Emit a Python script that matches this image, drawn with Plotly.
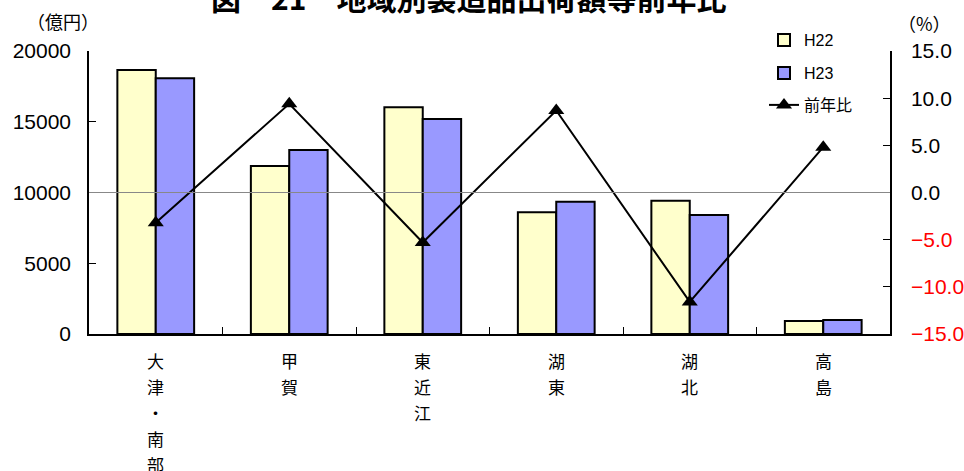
import plotly.graph_objects as go

categories = ["大津・南部", "甲賀", "東近江", "湖東", "湖北", "高島"]
h22 = [18650, 11870, 16020, 8600, 9420, 920]
h23 = [18070, 13000, 15190, 9350, 8410, 990]
ratio = [-3.2, 9.4, -5.3, 8.7, -11.6, 4.8]

left_ticks = [0, 5000, 10000, 15000, 20000]
right_ticks = [-15, -10, -5, 0, 5, 10, 15]
right_labels = ["−15.0", "−10.0", "−5.0", "0.0", "5.0", "10.0", "15.0"]

FONT = "Liberation Sans, Noto Sans CJK JP, sans-serif"
CJK = "Noto Sans CJK JP, sans-serif"

fig = go.Figure()
fig.add_trace(go.Bar(x=categories, y=h22, name="H22",
                     marker=dict(color="#FFFFCC", line=dict(color="black", width=2)),
                     legend="legend", showlegend=True))
fig.add_trace(go.Bar(x=categories, y=h23, name="H23",
                     marker=dict(color="#9999FF", line=dict(color="black", width=2)),
                     legend="legend2", showlegend=True))
fig.add_trace(go.Scatter(x=categories, y=ratio, name="前年比", yaxis="y2",
                         mode="lines+markers",
                         line=dict(color="black", width=2),
                         marker=dict(symbol="triangle-up", size=14, color="black"),
                         legend="legend3", showlegend=True))

rt_text = [f"<span style='color:red'>{t}</span>" if v < 0 else t
           for v, t in zip(right_ticks, right_labels)]

# plot area pixel geometry
L, R, T, B = 89, 74, 51, 137
W, H = 964, 471
ph = H - T - B
pw = W - L - R

def py(pix):
    return (H - B - pix) / ph

def px(pix):
    return (pix - L) / pw

annotations = []
# vertical category labels
for ci, cat in enumerate(categories):
    for k, ch in enumerate(cat):
        annotations.append(dict(x=cat, xref="x", y=py(360 + 26 * k), yref="paper",
                                text=ch, showarrow=False, xanchor="center", yanchor="middle",
                                font=dict(family=CJK, size=17, color="black")))
annotations.append(dict(x=px(468), y=py(-3), xref="paper", yref="paper",
                        text="図　21　地域別製造品出荷額等前年比", showarrow=False,
                        xanchor="center", yanchor="middle",
                        font=dict(family=CJK, size=30, color="black", weight="bold")))
annotations.append(dict(x=px(63), y=py(21), xref="paper", yref="paper",
                        text="（億円）", showarrow=False, xanchor="center", yanchor="middle",
                        font=dict(family=CJK, size=18, color="black")))
annotations.append(dict(x=px(924), y=py(23), xref="paper", yref="paper",
                        text="（%）", showarrow=False, xanchor="center", yanchor="middle",
                        font=dict(family=CJK, size=18, color="black")))

legend_common = dict(xanchor="left", yanchor="middle", bgcolor="rgba(0,0,0,0)",
                     font=dict(family=FONT, size=16, color="black"))

fig.update_layout(
    width=W, height=H,
    showlegend=True,
    margin=dict(l=L, r=R, t=T, b=B, pad=0, autoexpand=False),
    paper_bgcolor="white", plot_bgcolor="white",
    barmode="group", bargap=0.425, bargroupgap=0,
    font=dict(family=FONT, size=20, color="black"),
    xaxis=dict(type="category", showticklabels=False, ticks="inside", tickson="boundaries",
               ticklen=7, tickcolor="black", showline=True, linecolor="black", linewidth=1.5,
               showgrid=False, range=[-0.5, 5.5], automargin=False),
    yaxis=dict(range=[0, 20000], tickvals=left_ticks, tickformat="d", ticks="inside", ticklen=7,
               tickcolor="black", showline=True, linecolor="black", linewidth=1.5,
               showgrid=False, zeroline=False, ticklabelstandoff=12, automargin=False,
               tickfont=dict(family=FONT, size=21, color="black")),
    yaxis2=dict(range=[-15, 15], overlaying="y", side="right", tickvals=right_ticks,
                ticktext=rt_text, ticks="inside", ticklen=7, tickcolor="black",
                showline=True, linecolor="black", linewidth=1.5, showgrid=False,
                zeroline=False, ticklabelstandoff=15, automargin=False,
                tickfont=dict(family=FONT, size=21, color="black")),
    legend=dict(x=px(764), y=py(40), **legend_common),
    legend2=dict(x=px(764), y=py(73), **legend_common),
    legend3=dict(x=px(764), y=py(105), **legend_common),
    annotations=annotations,
    shapes=[dict(type="line", xref="paper", yref="y2", x0=0, x1=1, y0=0, y1=0,
                 line=dict(color="#888888", width=1.2), layer="above")],
)

fig.write_html("out.html")
